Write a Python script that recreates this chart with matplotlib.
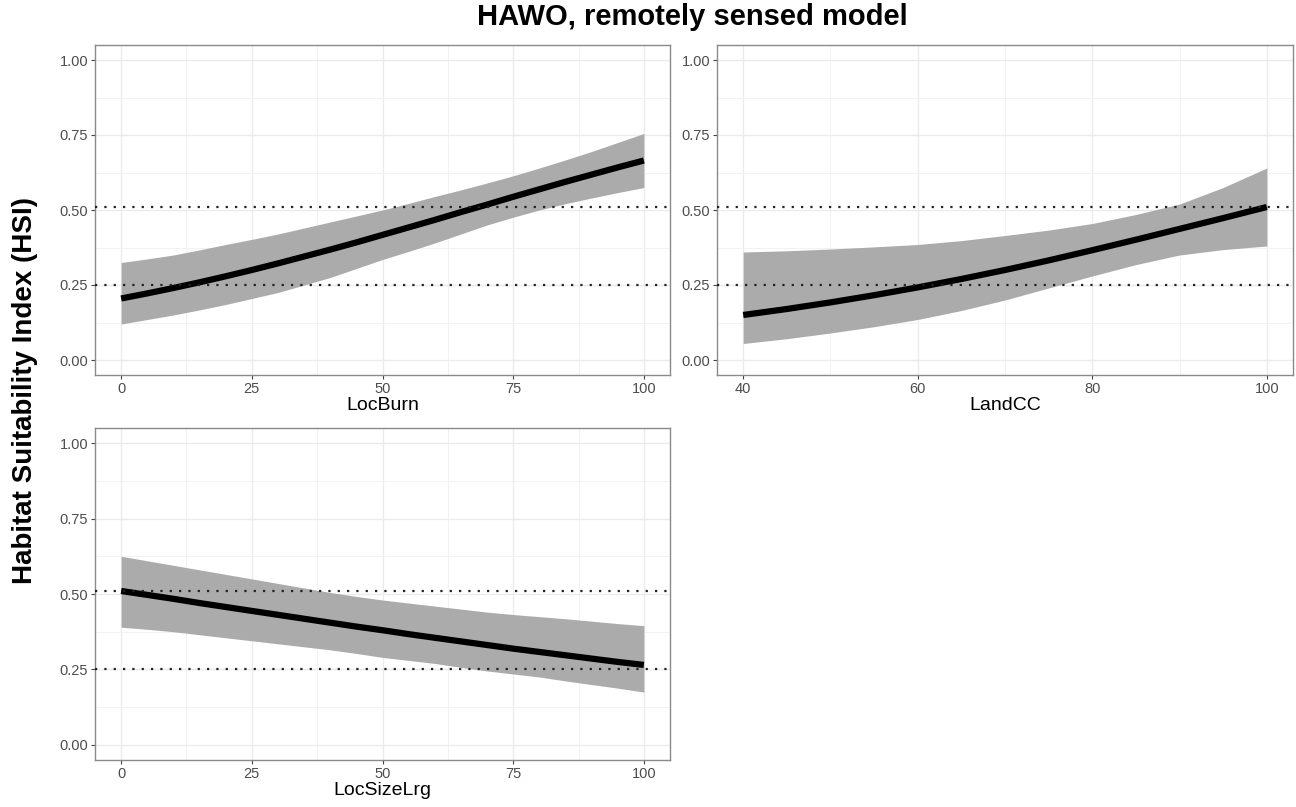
import matplotlib
matplotlib.use("Agg")
import matplotlib.pyplot as plt
from matplotlib.ticker import MultipleLocator

plt.rcParams['font.family'] = ['Liberation Sans', 'DejaVu Sans']

# LocBurn panel
burn_x = [0, 5, 10, 15, 20, 25, 30, 35, 40, 45, 50, 55, 60, 65, 70, 75, 80, 85, 90, 95, 100]
burn_fit = [0.205, 0.222, 0.240, 0.259, 0.279, 0.300, 0.322, 0.345, 0.368, 0.392, 0.417,
            0.442, 0.467, 0.493, 0.518, 0.544, 0.569, 0.594, 0.618, 0.642, 0.665]
burn_hi = [0.325, 0.337, 0.350, 0.367, 0.385, 0.402, 0.420, 0.440, 0.460, 0.480, 0.500,
           0.522, 0.545, 0.567, 0.590, 0.614, 0.640, 0.667, 0.695, 0.725, 0.755]
burn_lo = [0.120, 0.135, 0.150, 0.167, 0.185, 0.205, 0.225, 0.250, 0.275, 0.305, 0.335,
           0.362, 0.390, 0.420, 0.450, 0.476, 0.500, 0.521, 0.540, 0.558, 0.575]

# LandCC panel
cc_x = [40, 45, 50, 55, 60, 65, 70, 75, 80, 85, 90, 95, 100]
cc_fit = [0.150, 0.170, 0.192, 0.216, 0.242, 0.270, 0.300, 0.332, 0.366, 0.401, 0.437, 0.473, 0.510]
cc_hi = [0.360, 0.364, 0.370, 0.377, 0.385, 0.398, 0.415, 0.433, 0.455, 0.485, 0.520, 0.575, 0.640]
cc_lo = [0.055, 0.071, 0.090, 0.111, 0.135, 0.165, 0.200, 0.240, 0.280, 0.318, 0.350, 0.368, 0.380]

# LocSizeLrg panel
size_x = [0, 5, 10, 15, 20, 25, 30, 35, 40, 45, 50, 55, 60, 65, 70, 75, 80, 85, 90, 95, 100]
size_fit = [0.510, 0.497, 0.484, 0.470, 0.457, 0.444, 0.431, 0.418, 0.405, 0.392, 0.380,
            0.367, 0.355, 0.343, 0.331, 0.319, 0.308, 0.297, 0.286, 0.275, 0.265]
size_hi = [0.625, 0.610, 0.595, 0.580, 0.565, 0.550, 0.535, 0.520, 0.505, 0.492, 0.480,
           0.470, 0.460, 0.450, 0.440, 0.432, 0.425, 0.418, 0.410, 0.402, 0.395]
size_lo = [0.390, 0.383, 0.375, 0.365, 0.355, 0.345, 0.335, 0.325, 0.315, 0.303, 0.290,
           0.280, 0.270, 0.257, 0.245, 0.235, 0.225, 0.212, 0.200, 0.188, 0.175]

thresholds = [0.51, 0.25]
y_ticks = [0.0, 0.25, 0.5, 0.75, 1.0]

W, H = 1296, 807
fig = plt.figure(figsize=(W / 100, H / 100), dpi=100)


def panel(left, right, top, bottom):
    return fig.add_axes([left / W, 1 - bottom / H, (right - left) / W, (bottom - top) / H])


def draw(ax, x, fit, lo, hi, xlim, xmajor, xminor, xlabel):
    ax.set_facecolor('white')
    ax.fill_between(x, lo, hi, color='#ababab', lw=0, zorder=2)
    ax.plot(x, fit, color='black', lw=4.5, solid_capstyle='butt', zorder=3)
    for t in thresholds:
        ax.axhline(t, color='#222222', lw=1.6, ls=(0, (1, 3.2)), zorder=4)
    ax.set_xlim(*xlim)
    ax.set_ylim(-0.05, 1.05)
    ax.set_yticks(y_ticks)
    ax.set_yticklabels(['%.2f' % v for v in y_ticks])
    ax.xaxis.set_major_locator(MultipleLocator(xmajor))
    ax.xaxis.set_minor_locator(MultipleLocator(xminor))
    ax.yaxis.set_minor_locator(MultipleLocator(0.125))
    ax.grid(which='major', color='#ebebeb', lw=1.0, zorder=0)
    ax.grid(which='minor', color='#f2f2f2', lw=0.7, zorder=0)
    ax.set_axisbelow(True)
    ax.tick_params(which='major', length=3, width=0.8, color='#444444',
                   labelsize=10.5, labelcolor='#4d4d4d', pad=2)
    ax.tick_params(which='minor', length=0)
    for s in ax.spines.values():
        s.set_color('#8a8a8a')
        s.set_linewidth(1.0)
    ax.set_xlabel(xlabel, fontsize=14, labelpad=1)


ax1 = panel(95, 670, 45, 375)
draw(ax1, burn_x, burn_fit, burn_lo, burn_hi, (-5, 105), 25, 12.5, 'LocBurn')

ax2 = panel(717, 1293, 45, 375)
draw(ax2, cc_x, cc_fit, cc_lo, cc_hi, (37, 103), 20, 10, 'LandCC')

ax3 = panel(95, 670, 428, 760)
draw(ax3, size_x, size_fit, size_lo, size_hi, (-5, 105), 25, 12.5, 'LocSizeLrg')

fig.text(692 / W, 1 - 17 / H, 'HAWO, remotely sensed model', ha='center', va='center',
         fontsize=21, fontweight='bold')
fig.text(25 / W, 1 - 390 / H, 'Habitat Suitability Index (HSI)', ha='center', va='center',
         rotation=90, fontsize=20, fontweight='bold')

fig.savefig('out.png', dpi=100, facecolor='white')
